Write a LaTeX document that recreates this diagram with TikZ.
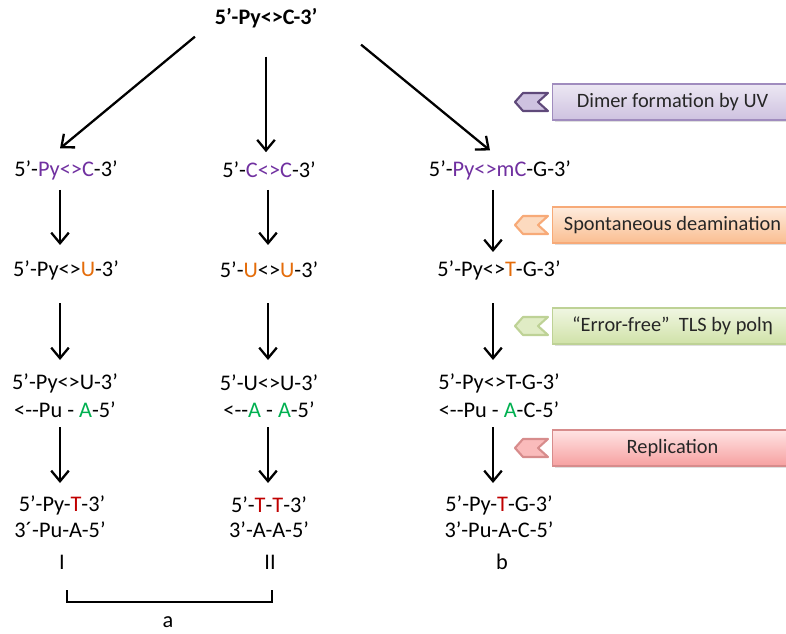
\documentclass[tikz,border=0pt]{standalone}
\usepackage{fontspec}
\setmainfont{Carlito}
\usepackage{tikz}
\usetikzlibrary{positioning,arrows.meta,calc,shadows}
\definecolor{dimerpurple}{RGB}{112,48,160}
\definecolor{deamorange}{RGB}{228,108,10}
\definecolor{pairgreen}{RGB}{0,176,80}
\definecolor{mutred}{RGB}{192,0,0}
\definecolor{uvtop}{RGB}{236,231,243}
\definecolor{uvbot}{RGB}{206,194,224}
\definecolor{uvline}{RGB}{160,140,190}
\definecolor{uvdark}{RGB}{95,73,122}
\definecolor{detop}{RGB}{254,236,222}
\definecolor{debot}{RGB}{250,190,145}
\definecolor{deline}{RGB}{247,170,120}
\definecolor{tltop}{RGB}{240,246,226}
\definecolor{tlbot}{RGB}{208,226,168}
\definecolor{tlline}{RGB}{190,210,150}
\definecolor{retop}{RGB}{255,228,228}
\definecolor{rebot}{RGB}{246,160,160}
\definecolor{reline}{RGB}{215,140,140}
% chevron plus shaded box on the right
\newcommand{\stepbanner}[8]{%
  \draw[fill=#6, draw=#7, line width=1.2pt, line join=round]
    (515,#2) -- ++(8,-9) -- ++(25,0) -- ++(-10,9) -- ++(10,9) -- ++(-25,0) -- cycle;
  \node[banner, top color=#3, bottom color=#4, draw=#5] (#1) at (552,#2) {#8};}
\newcommand{\dimerbase}[1]{\textcolor{dimerpurple}{#1}}
\newcommand{\deambase}[1]{\textcolor{deamorange}{#1}}
\newcommand{\pairbase}[1]{\textcolor{pairgreen}{#1}}
\newcommand{\mutbase}[1]{\textcolor{mutred}{#1}}

\begin{document}
\begin{tikzpicture}[x=0.02cm, y=-0.02cm, font=\fontsize{12.7}{15}\selectfont,
  dna/.style={inner sep=2pt},
  flow/.style={line width=1.3pt, -{Straight Barb[length=6pt,width=10pt]}},
  banner/.style={anchor=west, minimum width=4.8cm, minimum height=0.72cm,
    line width=0.6pt, text=black!85, font=\fontsize{11.6}{13}\selectfont,
    drop shadow={shadow xshift=1.2pt, shadow yshift=-1.2pt, opacity=0.25}}]
  \useasboundingbox (0,0) rectangle (786,634);

  \node[dna, font=\fontsize{12.6}{16}\bfseries] (top) at (266,18) {5’-Py<>C-3’};

  % column I
  \node[dna] (c1a)  at (66,170) {5’-\dimerbase{Py<>C}-3’};
  \node[dna] (c1b)  at (66,270) {5’-Py<>\deambase{U}-3’};
  \node[dna] (c1c)  at (65,383) {5’-Py<>U-3’};
  \node[dna] (c1cc) at (65,410) {<-{}-Pu - \pairbase{A}-5’};
  \node[dna] (c1d)  at (62,505) {5’-Py-\mutbase{T}-3’};
  \node[dna] (c1dd) at (60,530) {3´-Pu-A-5’};
  \node[dna] (lab1) at (62,562) {I};

  % column II
  \node[dna] (c2a)  at (269,170) {5’-\dimerbase{C<>C}-3’};
  \node[dna] (c2b)  at (269,270) {5’-\deambase{U}<>\deambase{U}-3’};
  \node[dna] (c2c)  at (269,383) {5’-U<>U-3’};
  \node[dna] (c2cc) at (269,410) {<-{}-\pairbase{A} - \pairbase{A}-5’};
  \node[dna] (c2d)  at (269,505) {5’-\mutbase{T}-\mutbase{T}-3’};
  \node[dna] (c2dd) at (269,530) {3’-A-A-5’};
  \node[dna] (lab2) at (270,562) {II};

  % column b
  \node[dna] (c3a)  at (500,170) {5’-\dimerbase{Py<>mC}-G-3’};
  \node[dna] (c3b)  at (499,270) {5’-Py<>\deambase{T}-G-3’};
  \node[dna] (c3c)  at (499,383) {5’-Py<>T-G-3’};
  \node[dna] (c3cc) at (499,410) {<-{}-Pu - \pairbase{A}-C-5’};
  \node[dna] (c3d)  at (499,505) {5’-Py-\mutbase{T}-G-3’};
  \node[dna] (c3dd) at (499,530) {3’-Pu-A-C-5’};
  \node[dna] (lab3) at (502,562) {b};

  \coordinate (ax1) at (60,0);
  \coordinate (ax2) at (268,0);
  \coordinate (ax3) at (493,0);

  % arrows from the dimer
  \draw[flow] ($(top.south west)+(-16,5)$) -- ($(c1a.north)+(-6,-8)$);
  \draw[flow] ($(top.south)+(0,25)$) -- ($(c2a.north)+(-3,-6)$);
  \draw[flow] ($(top.south east)+(40,13)$) -- ($(c3a.north)+(-10,-6)$);

  % vertical steps
  \draw[flow] ($(c1a -| ax1)+(0,20)$) -- ($(c1b -| ax1)+(0,-25)$);
  \draw[flow] ($(c1b -| ax1)+(0,33)$) -- ($(c1c -| ax1)+(0,-23)$);
  \draw[flow] ($(c1cc -| ax1)+(0,17)$) -- ($(c1d -| ax1)+(0,-22)$);
  \draw[flow] ($(c2a -| ax2)+(0,20)$) -- ($(c2b -| ax2)+(0,-25)$);
  \draw[flow] ($(c2b -| ax2)+(0,33)$) -- ($(c2c -| ax2)+(0,-23)$);
  \draw[flow] ($(c2cc -| ax2)+(0,17)$) -- ($(c2d -| ax2)+(0,-22)$);
  \draw[flow] ($(c3a -| ax3)+(0,20)$) -- ($(c3b -| ax3)+(0,-18)$);
  \draw[flow] ($(c3b -| ax3)+(0,33)$) -- ($(c3c -| ax3)+(0,-23)$);
  \draw[flow] ($(c3cc -| ax3)+(0,17)$) -- ($(c3d -| ax3)+(0,-22)$);

  % bracket under I and II
  \coordinate (brl) at (67,590);
  \coordinate (brr) at (272,590);
  \draw[line width=1.4pt] (brl) -- ++(0,12) -| (brr);
  \node[dna] (groupa) at (168,622) {a};

  \stepbanner{uv}{102}{uvtop}{uvbot}{uvline}{uvbot}{uvdark}{Dimer formation by UV}
  \stepbanner{deam}{225}{detop}{debot}{deline}{detop!60!debot}{deline}{Spontaneous deamination}
  \stepbanner{tls}{326}{tltop}{tlbot}{tlline}{tltop!50!tlbot}{tlline}{“Error-free”\ \ TLS by polη}
  \stepbanner{repl}{448}{retop}{rebot}{reline}{retop!40!rebot}{reline}{Replication}
\end{tikzpicture}
\end{document}
